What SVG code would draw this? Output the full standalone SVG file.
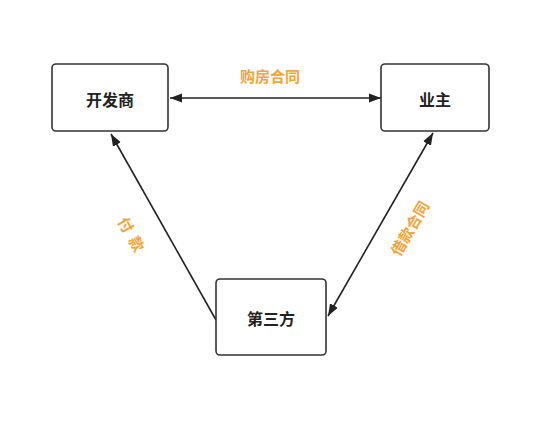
<svg xmlns="http://www.w3.org/2000/svg" width="558" height="424" viewBox="0 0 558 424">
<style>
.box{fill:#fff;stroke:#333;stroke-width:1.6}
.t{font-family:"Noto Sans CJK SC","Liberation Sans",sans-serif;font-size:16px;font-weight:bold;fill:#222;text-anchor:middle;dominant-baseline:central}
.l{font-family:"Noto Sans CJK SC","Liberation Sans",sans-serif;font-size:15px;font-weight:bold;fill:#F0A43A;text-anchor:middle;dominant-baseline:central}
.c{fill:none;stroke:#222;stroke-width:1.6}
</style>
<defs>
<marker id="ah" viewBox="0 0 12 10" refX="12" refY="5" markerWidth="12" markerHeight="10" orient="auto-start-reverse" markerUnits="userSpaceOnUse">
<path d="M0,0.5 L12,5 L0,9.5 Z" fill="#222"/>
</marker>
</defs>
<rect width="558" height="424" fill="#fff"/>
<g id="connectors">
<line class="c" x1="170" y1="98" x2="381" y2="98" marker-start="url(#ah)" marker-end="url(#ah)"/>
<line class="c" x1="216" y1="320" x2="111" y2="134" marker-end="url(#ah)"/>
<line class="c" x1="433" y1="133" x2="328" y2="316" marker-start="url(#ah)" marker-end="url(#ah)"/>
</g>
<g id="labels">
<text class="l" x="270" y="75">购房合同</text>
<text class="l" x="0" y="0" transform="translate(132,234) rotate(60)" xml:space="preserve">付  款</text>
<text class="l" x="0" y="0" transform="translate(409,228) rotate(-60)">借款合同</text>
</g>
<g id="developer">
<rect class="box" x="52" y="64" width="116" height="67" rx="4"/>
<text class="t" x="110" y="99">开发商</text>
</g>
<g id="owner">
<rect class="box" x="381" y="64" width="108" height="67" rx="4"/>
<text class="t" x="435" y="99">业主</text>
</g>
<g id="third">
<rect class="box" x="216" y="279" width="110" height="76" rx="4"/>
<text class="t" x="271" y="318">第三方</text>
</g>
</svg>
